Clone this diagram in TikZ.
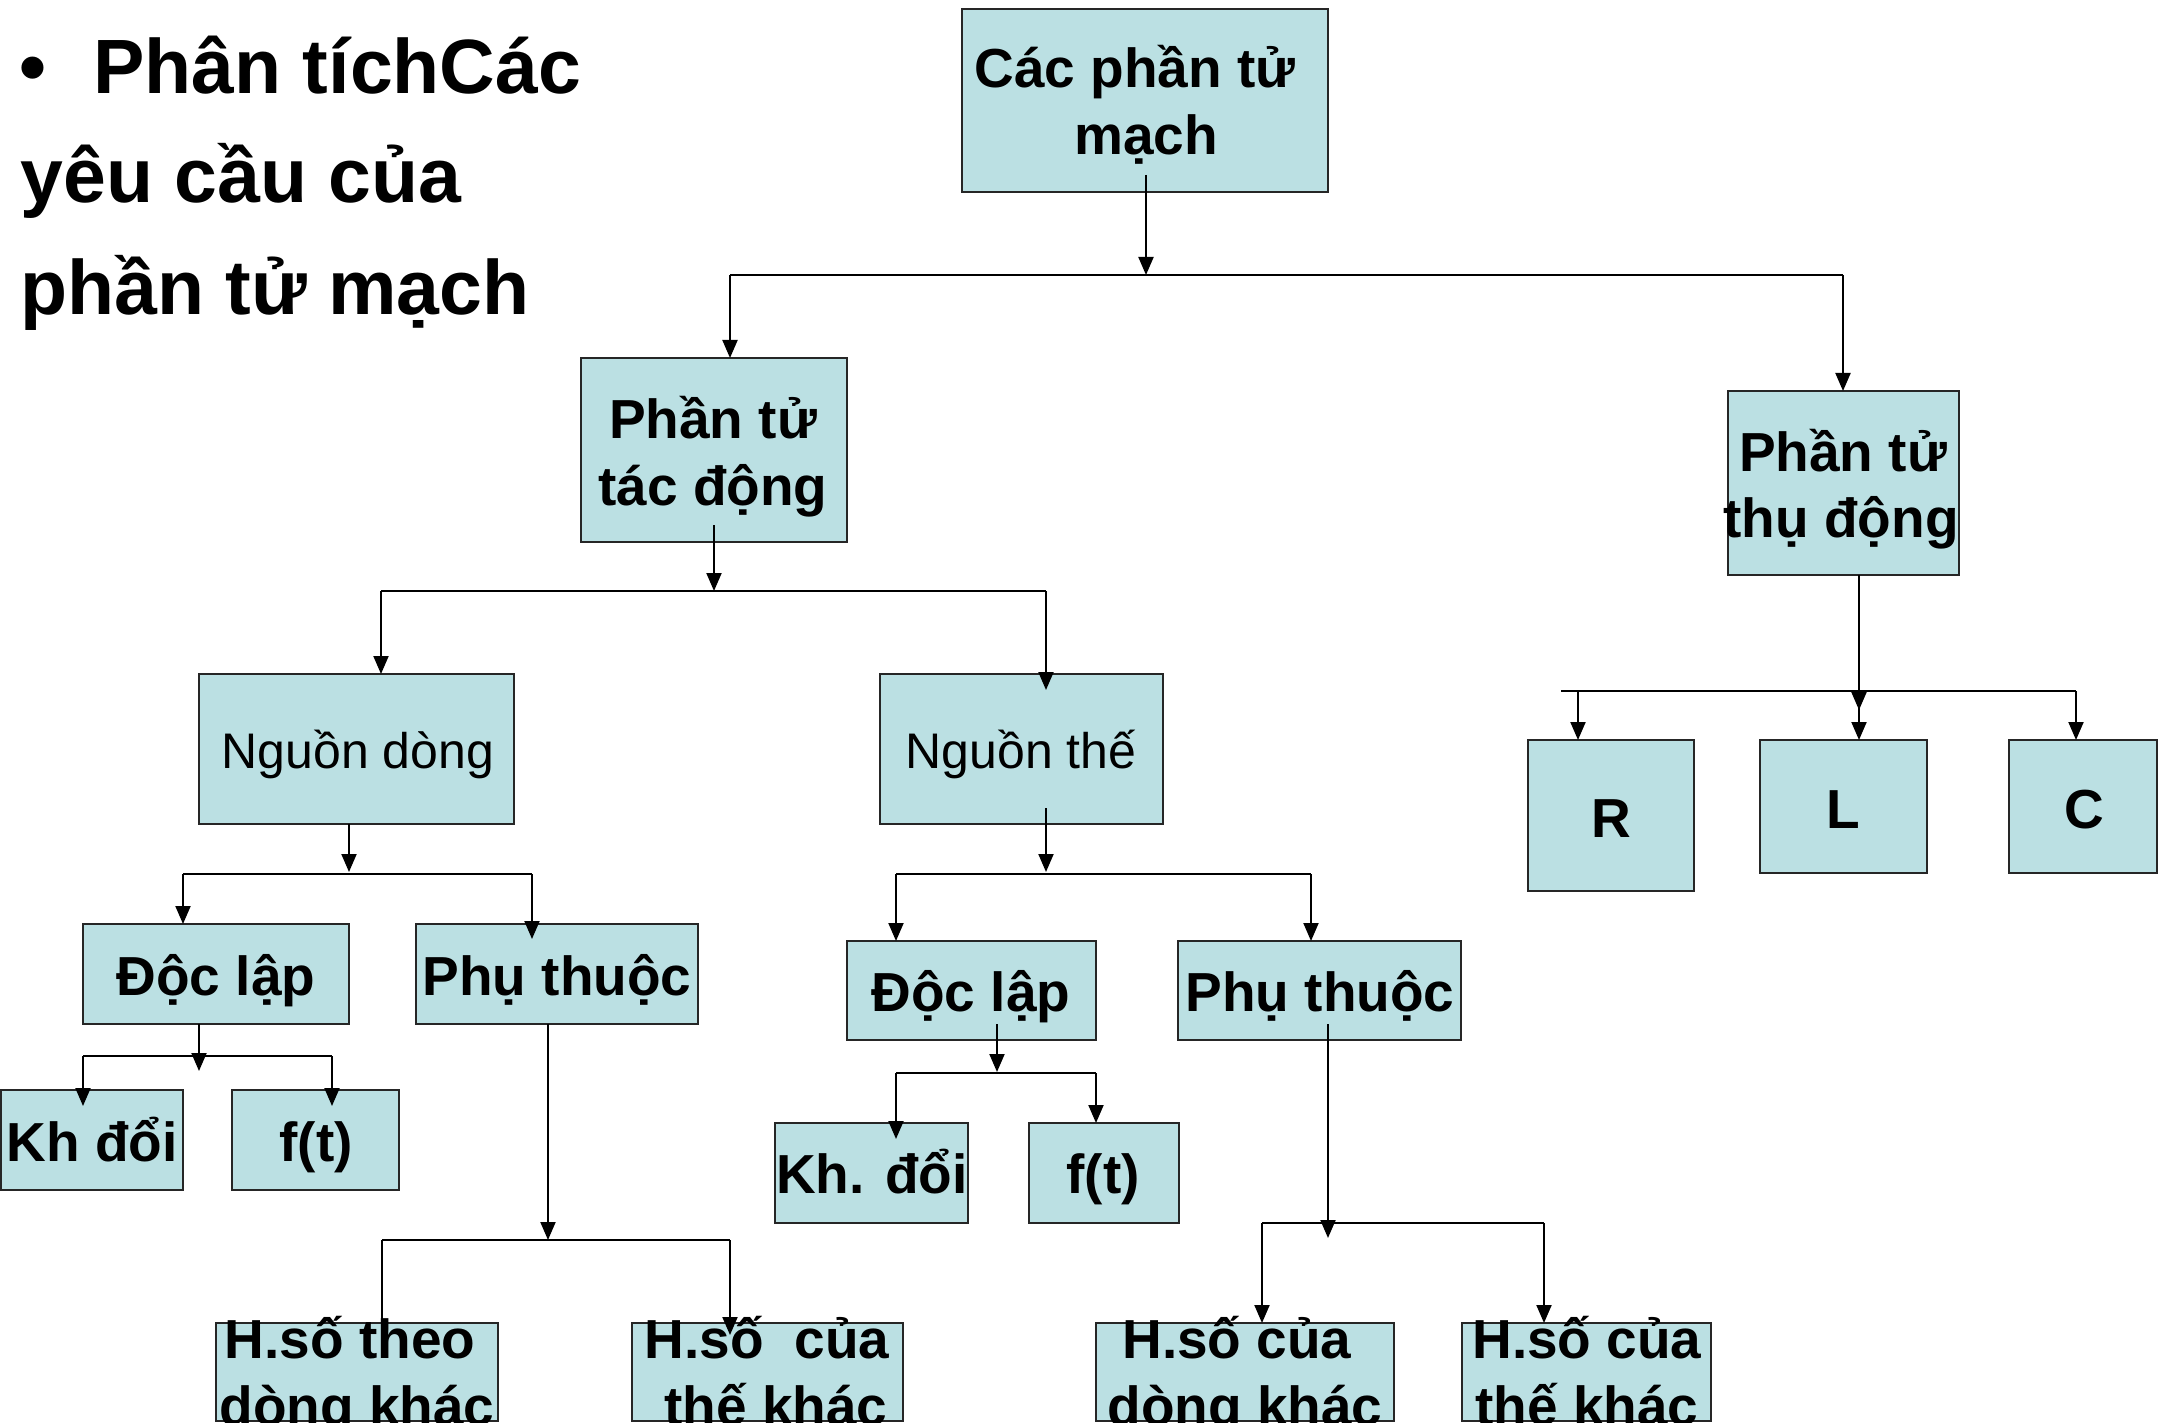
\documentclass[tikz,border=0pt]{standalone}
\usepackage{fontspec}
\setmainfont{Liberation Sans}
\usetikzlibrary{arrows.meta,fit,calc}
\definecolor{boxfill}{HTML}{BBE0E3}
\newcommand\mkbox[5]{\node[box, fit={(#2,#3) (#4,#5)}] (#1) {};}
\begin{document}
\begin{tikzpicture}[x=0.5pt,y=-0.5pt,
  box/.style={draw=black!85, fill=boxfill, line width=1pt, inner sep=0pt, outer sep=0pt, rectangle},
  bt/.style={font=\fontsize{27.5}{33}\selectfont\bfseries, anchor=base, inner sep=0pt},
  rt/.style={font=\fontsize{25}{30}\selectfont, anchor=base, inner sep=0pt},
  tt/.style={font=\fontsize{38.5}{46}\selectfont\bfseries, anchor=base west, inner sep=0pt},
  ln/.style={line width=1pt, black},
  arr/.style={ln, -{Triangle[length=9pt,width=7.5pt]}}]
\useasboundingbox (0,0) rectangle (2159,1423);

% title
\node[tt, anchor=base] (bul) at (33,94) {•};
\node[tt] (t1) at (93,94) {Phân tíchCác};
\node[tt] (t2) at (20,203) {yêu cầu của};
\node[tt] (t3) at (20,315) {phần tử mạch};

% boxes
\mkbox{A}{962}{9}{1328}{192}
\mkbox{B}{581}{358}{847}{542}
\mkbox{P}{1728}{391}{1959}{575}
\mkbox{ND}{199}{674}{514}{824}
\mkbox{NT}{880}{674}{1163}{824}
\mkbox{DL1}{83}{924}{349}{1024}
\mkbox{PT1}{416}{924}{698}{1024}
\mkbox{K1}{1}{1090}{183}{1190}
\mkbox{F1}{232}{1090}{399}{1190}
\mkbox{DL2}{847}{941}{1096}{1040}
\mkbox{PT2}{1178}{941}{1461}{1040}
\mkbox{K2}{775}{1123}{968}{1223}
\mkbox{F2}{1029}{1123}{1179}{1223}
\mkbox{R}{1528}{740}{1694}{891}
\mkbox{L}{1760}{740}{1927}{873}
\mkbox{C}{2009}{740}{2157}{873}
\mkbox{HS1}{216}{1323}{498}{1421}
\mkbox{HS2}{632}{1323}{903}{1421}
\mkbox{HS3}{1096}{1323}{1394}{1421}
\mkbox{HS4}{1462}{1323}{1711}{1421}

% texts
\node[bt] (A1) at (1135,88) {Các phần tử};
\node[bt] (A2) at (1146,155) {mạch};
\node[bt] (B1) at (713,438) {Phần tử};
\node[bt] (B2) at (713,505) {tác động};
\node[bt] (P1) at (1843,471) {Phần tử};
\node[bt] (P2) at (1841,537) {thụ động};
\node[rt] (NDt) at (358,768) {Nguồn dòng};
\node[rt] (NTt) at (1021,768) {Nguồn thế};
\node[bt] (DL1t) at (216,995) {Độc lập};
\node[bt] (PT1t) at (557,995) {Phụ thuộc};
\node[bt] (K1t) at (92,1161) {Kh đổi};
\node[bt] (F1t) at (316,1161) {f(t)};
\node[bt] (DL2t) at (971,1011) {Độc lập};
\node[bt] (PT2t) at (1320,1011) {Phụ thuộc};
\node[bt] (K2t) at (872,1193) {Kh. đổi};
\node[bt] (F2t) at (1103,1193) {f(t)};
\node[bt] (Rt) at (1611,837) {R};
\node[bt] (Lt) at (1843,828) {L};
\node[bt] (Ct) at (2084,828) {C};
\node[bt] (HS1a) at (350,1358) {H.số theo};
\node[bt] (HS1b) at (357,1425) {dòng khác};
\node[bt] (HS2a) at (767,1358) {H.số~ của};
\node[bt] (HS2b) at (776,1425) {thế khác};
\node[bt] (HS3a) at (1237,1358) {H.số của};
\node[bt] (HS3b) at (1245,1425) {dòng khác};
\node[bt] (HS4a) at (1587,1358) {H.số của};
\node[bt] (HS4b) at (1587,1425) {thế khác};

% connectors: A
\coordinate (jA) at (1146,275);
\coordinate (hA1) at (730,275);
\coordinate (hA2) at (1843,275);
\draw[arr] ($(jA |- A.south)+(0,-17)$) -- (jA);
\draw[ln] (hA1) -- (hA2);
\draw[arr] (hA1) -- (hA1 |- B.north);
\draw[arr] (hA2) -- (hA2 |- P.north);

% B
\coordinate (jB) at (714,591);
\coordinate (hB1) at (381,591);
\coordinate (hB2) at (1046,591);
\draw[arr] ($(jB |- B.south)+(0,-17)$) -- (jB);
\draw[ln] (hB1) -- (hB2);
\draw[arr] (hB1) -- (hB1 |- ND.north);
\draw[arr] (hB2) -- ($(hB2 |- NT.north)+(0,16)$);

% ND
\coordinate (jND) at (349,872);
\coordinate (hND1) at (183,874);
\coordinate (hND2) at (532,874);
\draw[arr] (jND |- ND.south) -- (jND);
\draw[ln] (hND1) -- (hND2);
\draw[arr] (hND1) -- (hND1 |- DL1.north);
\draw[arr] (hND2) -- ($(hND2 |- PT1.north)+(0,15)$);

% DL1
\coordinate (jDL1) at (199,1071);
\coordinate (hDL1a) at (83,1056);
\coordinate (hDL1b) at (332,1056);
\draw[arr] (jDL1 |- DL1.south) -- (jDL1);
\draw[ln] (hDL1a) -- (hDL1b);
\draw[arr] (hDL1a) -- ($(hDL1a |- K1.north)+(0,16)$);
\draw[arr] (hDL1b) -- ($(hDL1b |- F1.north)+(0,16)$);

% PT1
\coordinate (jPT1) at (548,1240);
\coordinate (hPT1a) at (382,1240);
\coordinate (hPT1b) at (730,1240);
\draw[arr] (jPT1 |- PT1.south) -- (jPT1);
\draw[ln] (hPT1a) -- (hPT1b);
\draw[ln] (hPT1a) -- (hPT1a |- HS1.north);
\draw[arr] (hPT1b) -- ($(hPT1b |- HS2.north)+(0,12)$);

% NT
\coordinate (jNT) at (1046,872);
\coordinate (hNT1) at (896,874);
\coordinate (hNT2) at (1311,874);
\draw[arr] ($(jNT |- NT.south)+(0,-16)$) -- (jNT);
\draw[ln] (hNT1) -- (hNT2);
\draw[arr] (hNT1) -- (hNT1 |- DL2.north);
\draw[arr] (hNT2) -- (hNT2 |- PT2.north);

% DL2
\coordinate (jDL2) at (997,1072);
\coordinate (hDL2a) at (896,1073);
\coordinate (hDL2b) at (1096,1073);
\draw[arr] ($(jDL2 |- DL2.south)+(0,-16)$) -- (jDL2);
\draw[ln] (hDL2a) -- (hDL2b);
\draw[arr] (hDL2a) -- ($(hDL2a |- K2.north)+(0,16)$);
\draw[arr] (hDL2b) -- (hDL2b |- F2.north);

% PT2
\coordinate (jPT2) at (1328,1238);
\coordinate (hPT2a) at (1262,1223);
\coordinate (hPT2b) at (1544,1223);
\draw[arr] ($(jPT2 |- PT2.south)+(0,-16)$) -- (jPT2);
\draw[ln] (hPT2a) -- (hPT2b);
\draw[arr] (hPT2a) -- (hPT2a |- HS3.north);
\draw[arr] (hPT2b) -- (hPT2b |- HS4.north);

% P
\coordinate (jP) at (1859,710);
\coordinate (hP0) at (1561,691);
\coordinate (hPR) at (1578,691);
\coordinate (hPL) at (1859,691);
\coordinate (hPC) at (2076,691);
\draw[arr] (jP |- P.south) -- (jP);
\draw[ln] (hP0) -- (hPC);
\draw[arr] (hPR) -- (hPR |- R.north);
\draw[arr] (hPL) -- (hPL |- L.north);
\draw[arr] (hPC) -- (hPC |- C.north);
\end{tikzpicture}
\end{document}
